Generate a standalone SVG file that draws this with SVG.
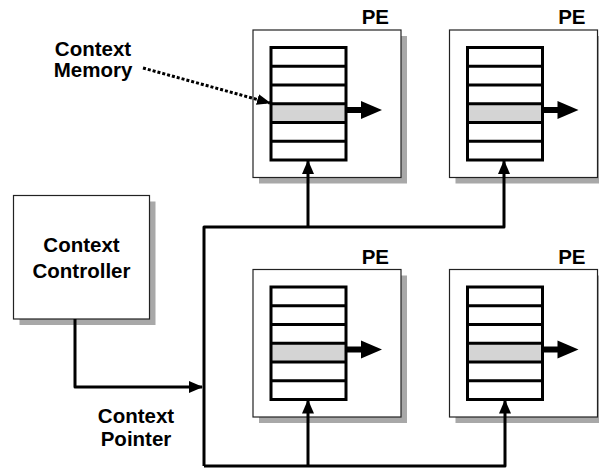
<svg xmlns="http://www.w3.org/2000/svg" width="599" height="469" viewBox="0 0 599 469">
<style>
.lbl{font-family:"Liberation Sans",Arial,sans-serif;font-weight:bold;font-size:20.5px;fill:#000}
.shadow{fill:#a8a8a8;stroke:none}
.box{fill:#fff;stroke:#222;stroke-width:1.2}
.stack{fill:none;stroke:#000;stroke-width:3}
.bg{fill:#fff;stroke:none}
.row{stroke:#000;stroke-width:3}
.sel{fill:#d4d4d4;stroke:none}
.wire{fill:none;stroke:#000;stroke-width:3;stroke-linejoin:round}
</style>
<defs>
<marker id="ah" viewBox="0 0 14 12" refX="13" refY="6" markerWidth="14" markerHeight="12" markerUnits="userSpaceOnUse" orient="auto"><path d="M0,0 L14,6 L0,12 z" fill="#000"/></marker>
<marker id="ahd" viewBox="0 0 14 11" refX="13" refY="5.5" markerWidth="14" markerHeight="11" markerUnits="userSpaceOnUse" orient="auto"><path d="M0,0 L14,5.5 L0,11 z" fill="#000"/></marker>
<g id="pe">
<rect class="shadow" x="6" y="6" width="148" height="147.5"/>
<rect class="box" x="0" y="0" width="148" height="147.5"/>
<rect class="sel" x="18" y="73.75" width="75" height="18.75"/>
<rect class="stack" x="18" y="17.5" width="75" height="112.5"/>
<path class="row" d="M18,36.25H93M18,55H93M18,73.75H93M18,92.5H93M18,111.25H93"/>
<path d="M93,80H109" stroke="#000" stroke-width="6"/>
<path d="M108,71 L129,80 L108,89 z" fill="#000"/>
<text class="lbl" x="136" y="-6" text-anchor="end">PE</text>
</g>
</defs>
<g id="pe-top-left"><use href="#pe" transform="translate(253,30)"/></g>
<g id="pe-top-right"><use href="#pe" transform="translate(449.5,30)"/></g>
<g id="pe-bottom-left"><use href="#pe" transform="translate(253,269.5)"/></g>
<g id="pe-bottom-right"><use href="#pe" transform="translate(449.5,269.5)"/></g>
<g id="context-controller">
<rect class="shadow" x="19.5" y="201.5" width="136" height="123.5"/>
<rect class="box" x="13.5" y="195.5" width="136" height="123.5"/>
<text class="lbl" x="81.5" y="251.5" text-anchor="middle">Context</text>
<text class="lbl" x="81.5" y="278" text-anchor="middle">Controller</text>
</g>
<g id="context-memory-label">
<text class="lbl" x="93" y="55.5" text-anchor="middle">Context</text>
<text class="lbl" x="93" y="77" text-anchor="middle">Memory</text>
</g>
<g id="context-pointer-label">
<text class="lbl" x="136" y="422.5" text-anchor="middle">Context</text>
<text class="lbl" x="136" y="446" text-anchor="middle">Pointer</text>
</g>
<g id="connectors">
<path d="M143,68 L270,103" fill="none" stroke="#000" stroke-width="3" stroke-dasharray="3 2" marker-end="url(#ahd)"/>
<path class="wire" d="M75,319 V387 H202" marker-end="url(#ah)"/>
<path class="wire" d="M204,466 V227 H504 V161" marker-end="url(#ah)"/>
<path class="wire" d="M308,227 V161" marker-end="url(#ah)"/>
<path class="wire" d="M204,466 H505 V400.5" marker-end="url(#ah)"/>
<path class="wire" d="M308,466 V400.5" marker-end="url(#ah)"/>
</g>
</svg>
